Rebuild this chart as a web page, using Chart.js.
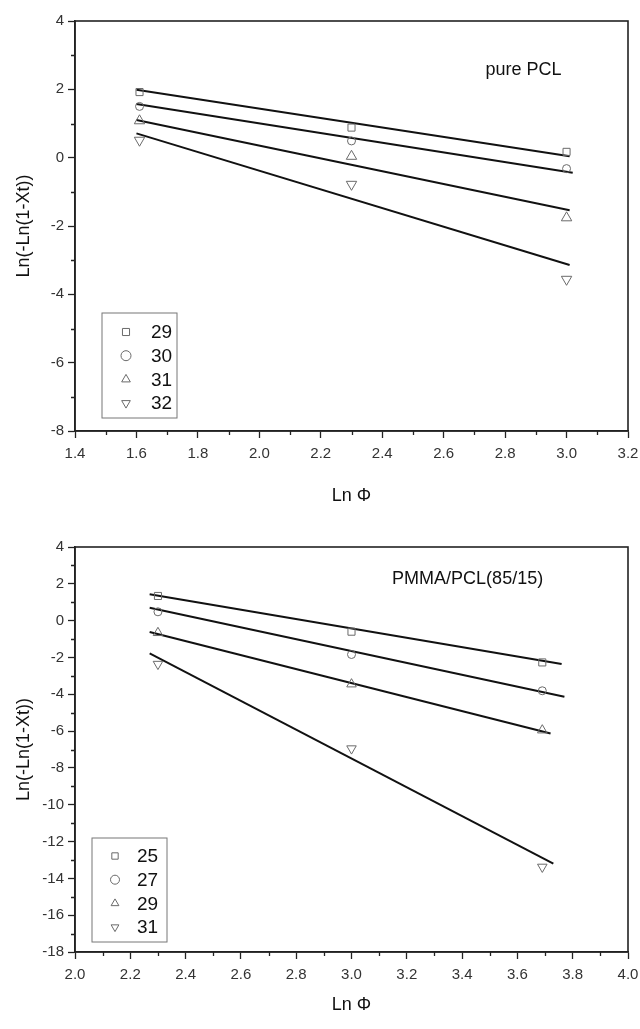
<!DOCTYPE html>
<html>
<head>
<meta charset="utf-8">
<script src="https://cdn.jsdelivr.net/npm/chart.js@4.4.0/dist/chart.umd.min.js"></script>
<style>
  html, body { margin: 0; padding: 0; background: #fff; }
  .box { position: relative; width: 640px; }
  #top { height: 515px; }
  #bottom { height: 514px; }
</style>
</head>
<body>
<div class="box" id="top"><canvas id="c1"></canvas></div>
<div class="box" id="bottom"><canvas id="c2"></canvas></div>
<script>
// pure PCL, x = Ln(phi)
const pclX = [1.61, 2.30, 3.00];
const pclLabels = ["29", "30", "31", "32"];
const pcl29 = [1.92, 0.88, 0.17];
const pcl30 = [1.50, 0.49, -0.32];
const pcl31 = [1.08, 0.04, -1.76];
const pcl32 = [0.51, -0.78, -3.56];
// fitted lines, start/end
const pclFitX = [[1.60, 3.01], [1.60, 3.02], [1.60, 3.01], [1.60, 3.01]];
const pclFitY = [[1.99, 0.04], [1.57, -0.44], [1.10, -1.54], [0.71, -3.14]];

// PMMA/PCL(85/15)
const blendX = [2.30, 3.00, 3.69];
const blendLabels = ["25", "27", "29", "31"];
const blend25 = [1.34, -0.60, -2.27];
const blend27 = [0.48, -1.84, -3.81];
const blend29 = [-0.66, -3.45, -5.95];
const blend31 = [-2.36, -6.95, -13.38];
const blendFitX = [[2.27, 3.76], [2.27, 3.77], [2.27, 3.72], [2.27, 3.73]];
const blendFitY = [[1.43, -2.36], [0.70, -4.14], [-0.62, -6.13], [-1.78, -13.2]];

const font = "'Liberation Sans', Arial, sans-serif";
const styles = ["rect", "circle", "triangle", "triangle"];
const rotations = [0, 0, 0, 180];

function pts(xs, ys) {
    return xs.map((x, i) => ({x: x, y: ys[i]}));
}

function buildDatasets(xs, series, labels, fitX, fitY, radii) {
    const sets = [];
    series.forEach((ys, i) => {
        sets.push({
            label: labels[i],
            data: pts(xs, ys),
            showLine: false,
            pointStyle: styles[i],
            pointRotation: rotations[i],
            pointRadius: radii[i],
            pointBorderWidth: 1,
            pointBorderColor: "#6a6a6a",
            pointBackgroundColor: "rgba(0,0,0,0)",
        });
    });
    fitX.forEach((fx, i) => {
        sets.push({
            label: "fit " + labels[i],
            data: pts(fx, fitY[i]),
            showLine: true,
            borderColor: "#111",
            borderWidth: 2,
            pointRadius: 0,
        });
    });
    return sets;
}

// box around the plot plus the short minor ticks
const frame = {
    id: "frame",
    afterDraw(chart, args, o) {
        const {ctx, chartArea, scales} = chart;
        ctx.save();
        ctx.strokeStyle = "#222";
        ctx.lineWidth = 1.6;
        ctx.strokeRect(chartArea.left, chartArea.top, chartArea.right - chartArea.left, chartArea.bottom - chartArea.top);
        ctx.lineWidth = 1.3;
        ctx.beginPath();
        for (let v = scales.x.min + o.xMinor; v < scales.x.max; v += 2 * o.xMinor) {
            const px = Math.round(scales.x.getPixelForValue(v)) + 0.5;
            ctx.moveTo(px, chartArea.bottom);
            ctx.lineTo(px, chartArea.bottom + 4);
        }
        for (let v = scales.y.min + o.yMinor; v < scales.y.max; v += 2 * o.yMinor) {
            const py = Math.round(scales.y.getPixelForValue(v)) + 0.5;
            ctx.moveTo(chartArea.left, py);
            ctx.lineTo(chartArea.left - 4, py);
        }
        ctx.stroke();
        ctx.restore();
    }
};

const boxLegend = {
    id: "boxLegend",
    afterDraw(chart, args, o) {
        const {ctx, chartArea} = chart;
        const x = chartArea.left + o.dx;
        const y = chartArea.bottom - o.dy - o.h;
        ctx.save();
        ctx.strokeStyle = "#777";
        ctx.lineWidth = 1;
        ctx.strokeRect(x, y, o.w, o.h);
        const items = chart.data.datasets.filter(d => !d.showLine);
        items.forEach((d, i) => {
            const cy = y + o.first + i * o.gap;
            ctx.strokeStyle = "#6a6a6a";
            ctx.fillStyle = "rgba(0,0,0,0)";
            Chart.helpers.drawPoint(ctx, {
                pointStyle: d.pointStyle,
                rotation: d.pointRotation,
                radius: o.r,
                borderWidth: 1
            }, x + o.sx, cy);
            ctx.fillStyle = "#111";
            ctx.font = o.size + "px " + font;
            ctx.textAlign = "left";
            ctx.textBaseline = "middle";
            ctx.fillText(d.label, x + o.tx, cy + 1);
        });
        ctx.restore();
    }
};

const note = {
    id: "note",
    afterDraw(chart, args, o) {
        const {ctx, scales} = chart;
        ctx.save();
        ctx.fillStyle = "#111";
        ctx.font = o.size + "px " + font;
        ctx.textAlign = "center";
        ctx.textBaseline = "middle";
        ctx.fillText(o.text, scales.x.getPixelForValue(o.x), scales.y.getPixelForValue(o.y));
        ctx.restore();
    }
};

function makeChart(canvas, cfg) {
    return new Chart(canvas, {
        type: "scatter",
        data: {datasets: cfg.datasets},
        options: {
            responsive: true,
            maintainAspectRatio: false,
            animation: false,
            layout: {padding: {left: 0, right: 12, top: cfg.top, bottom: 0}},
            plugins: {
                legend: {display: false},
                tooltip: {enabled: false},
                boxLegend: cfg.legend,
                note: cfg.note,
                frame: {xMinor: 0.1, yMinor: 1},
            },
            scales: {
                x: {
                    type: "linear",
                    min: cfg.xMin,
                    max: cfg.xMax,
                    afterFit: (s) => { s.height = cfg.xHeight; s.paddingRight = 0; s.paddingLeft = 0; },
                    grid: {drawOnChartArea: false, drawTicks: true, tickLength: 7, tickColor: "#222", tickWidth: 1.3},
                    border: {display: true, color: "#222", width: 1.6},
                    ticks: {
                        stepSize: 0.2,
                        autoSkip: false,
                        maxRotation: 0,
                        padding: 7,
                        color: "#333",
                        font: {family: font, size: 15},
                        callback: (v) => v.toFixed(1)
                    },
                    title: {
                        display: true,
                        text: "Ln Φ",
                        color: "#111",
                        font: {family: font, size: 18},
                        padding: {top: 0, bottom: cfg.xTitlePad}
                    }
                },
                y: {
                    type: "linear",
                    min: cfg.yMin,
                    max: cfg.yMax,
                    afterFit: (s) => { s.width = 75; },
                    grid: {drawOnChartArea: false, drawTicks: true, tickLength: 7, tickColor: "#222", tickWidth: 1.3},
                    border: {display: true, color: "#222", width: 1.6},
                    ticks: {
                        stepSize: 2,
                        autoSkip: false,
                        padding: 4,
                        color: "#333",
                        font: {family: font, size: 15},
                        callback: (v) => String(v)
                    },
                    title: {
                        display: true,
                        text: "Ln(-Ln(1-Xt))",
                        color: "#111",
                        font: {family: font, size: 18},
                        padding: {top: 13, bottom: 0}
                    }
                }
            }
        },
        plugins: [frame, boxLegend, note]
    });
}

makeChart(document.getElementById("c1"), {
    datasets: buildDatasets(pclX, [pcl29, pcl30, pcl31, pcl32], pclLabels, pclFitX, pclFitY, [5, 4, 6, 6]),
    top: 21, xMin: 1.4, xMax: 3.2, yMin: -8, yMax: 4, xHeight: 84, xTitlePad: 8,
    legend: {dx: 27, dy: 13, w: 75, h: 105, first: 19, gap: 23.7, sx: 24, tx: 49, r: 5, size: 19},
    note: {text: "pure PCL", x: 2.86, y: 2.56, size: 18}
});

makeChart(document.getElementById("c2"), {
    datasets: buildDatasets(blendX, [blend25, blend27, blend29, blend31], blendLabels, blendFitX, blendFitY, [5, 4, 5.5, 5.5]),
    top: 32, xMin: 2.0, xMax: 4.0, yMin: -18, yMax: 4, xHeight: 77, xTitlePad: 13,
    legend: {dx: 17, dy: 10, w: 75, h: 104, first: 18, gap: 23.7, sx: 23, tx: 45, r: 4.5, size: 19},
    note: {text: "PMMA/PCL(85/15)", x: 3.42, y: 2.26, size: 18}
});
</script>
</body>
</html>
